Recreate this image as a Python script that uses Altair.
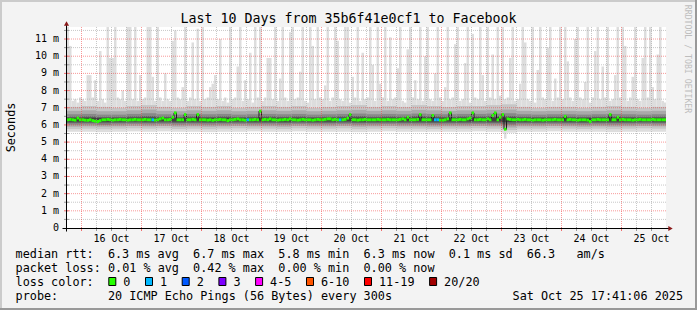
import re
import altair as alt
import pandas as pd

FONT = "DejaVu Sans Mono"
W, H = 600, 201
PAD_L, PAD_T = 66, 27
FULL_W, FULL_H = 697, 310

# ---------------- texts ----------------
title_text = "Last 10 Days from 35b6f41e0cf1 to Facebook"
y_title = "Seconds"
watermark = "RRDTOOL / TOBI OETIKER"
day_labels = ["16 Oct", "17 Oct", "18 Oct", "19 Oct", "20 Oct",
              "21 Oct", "22 Oct", "23 Oct", "24 Oct", "25 Oct"]
legend_lines = [
    "median rtt:  6.3 ms avg  6.7 ms max  5.8 ms min  6.3 ms now  0.1 ms sd  66.3   am/s",
    "packet loss: 0.01 % avg  0.42 % max  0.00 % min  0.00 % now",
    "loss color:",
    "probe:       20 ICMP Echo Pings (56 Bytes) every 300s".ljust(70) + "Sat Oct 25 17:41:06 2025",
]
loss_labels = ["0", "1", "2", "3", "4-5", "6-10", "11-19", "20/20"]
loss_colors = ["#26ff00", "#00b8ff", "#0059ff", "#7e00ff", "#ff00ff", "#ff5500", "#ff0000", "#a10000"]

# ---------------- hourly data (hours counted from 15 Oct 00:00) ----------------
first_hour = 17
ping_max = (
    [12.0, 12.0, 10.6, 7.4, 7.5, 7.3, 7.6]
    + [7.5, 7.4, 8.9, 8.9, 7.6, 8.6, 7.4, 10.3, 7.5, 7.3, 12.0, 9.9, 9.9, 12.0, 7.6, 7.5, 8.0, 7.4, 12.0, 12.0, 7.5, 12.0, 7.4, 8.9]
    + [7.5, 7.6, 12.0, 12.0, 8.8, 7.4, 12.0, 7.6, 7.4, 9.0, 7.5, 7.4, 10.9, 11.5, 7.6, 7.5, 8.2, 12.0, 7.4, 7.6, 10.8, 7.5, 11.6, 7.4]
    + [12.0, 7.5, 7.6, 8.2, 8.4, 8.9, 7.5, 11.0, 7.4, 7.6, 7.3, 12.0, 7.5, 7.6, 9.4, 12.0, 7.4, 8.6, 7.5, 10.2, 7.3, 12.0, 7.6, 12.0]
    + [7.4, 7.6, 9.9, 9.9, 7.5, 12.0, 7.4, 8.7, 12.0, 7.6, 7.4, 11.4, 12.0, 7.5, 7.6, 9.1, 12.0, 7.4, 7.3, 12.0, 10.6, 7.5, 12.0, 7.6]
    + [7.5, 8.3, 12.0, 7.4, 7.6, 12.0, 10.9, 7.5, 7.4, 12.0, 12.0, 7.3, 8.8, 7.6, 12.0, 7.4, 10.2, 7.5, 7.6, 12.0, 9.5, 7.4, 12.0, 8.4]
    + [7.6, 12.0, 7.4, 11.1, 7.5, 7.6, 9.3, 12.0, 7.4, 7.3, 10.4, 12.0, 7.6, 8.6, 7.5, 12.0, 7.4, 10.0, 12.0, 7.5, 7.4, 9.0, 12.0, 7.6]
    + [7.4, 8.2, 12.0, 7.5, 7.6, 10.7, 12.0, 7.4, 7.5, 9.6, 12.0, 7.3, 11.3, 7.6, 7.5, 12.0, 8.9, 7.4, 12.0, 7.6, 10.1, 7.5, 12.0, 7.7]
    + [12.0, 7.5, 7.6, 9.9, 12.0, 7.4, 7.5, 8.4, 12.0, 10.8, 7.5, 7.4, 12.0, 7.3, 9.2, 12.0, 7.6, 7.5, 10.5, 12.0, 7.4, 8.7, 7.6, 12.0]
    + [7.5, 12.0, 9.7, 7.6, 7.4, 11.0, 12.0, 7.6, 7.5, 8.5, 12.0, 7.3, 7.6, 10.3, 12.0, 7.5, 9.4, 7.6, 12.0, 7.4, 7.5, 8.9, 12.0, 7.6]
    + [12.0, 10.6, 7.4, 7.6, 8.8, 12.0, 7.5, 7.4, 9.9, 12.0, 7.6, 12.0, 8.2, 7.5, 10.1, 12.0, 7.4, 7.3]
)
median_ms = (
    [6.3, 6.3, 6.32, 6.3, 6.28, 6.4, 6.3]
    + [6.3, 6.28, 6.27, 6.3, 6.25, 6.22, 6.2, 6.25, 6.3, 6.3, 6.32, 6.3, 6.28, 6.3, 6.3, 6.32, 6.3, 6.3, 6.28, 6.3, 6.3, 6.32, 6.3, 6.3]
    + [6.3, 6.32, 6.3, 6.3, 6.3, 6.28, 6.3, 6.35, 6.4, 6.3, 6.3, 6.32, 6.45, 6.7, 6.3, 6.3, 6.3, 6.6, 6.3, 6.3, 6.32, 6.3, 6.6, 6.3]
    + [6.3, 6.3, 6.28, 6.3, 6.27, 6.3, 6.3, 6.32, 6.3, 6.3, 6.25, 6.3, 6.3, 6.32, 6.35, 6.3, 6.3, 6.28, 6.3, 6.3, 6.3, 6.32, 6.3, 6.8]
    + [6.3, 6.32, 6.3, 6.35, 6.3, 6.3, 6.28, 6.3, 6.3, 6.32, 6.3, 6.35, 6.3, 6.3, 6.28, 6.3, 6.32, 6.3, 6.3, 6.3, 6.28, 6.3, 6.32, 6.3]
    + [6.3, 6.32, 6.35, 6.35, 6.3, 6.32, 6.3, 6.3, 6.3, 6.32, 6.4, 6.6, 6.3, 6.3, 6.28, 6.3, 6.3, 6.32, 6.3, 6.3, 6.3, 6.3, 6.32, 6.3]
    + [6.3, 6.3, 6.32, 6.3, 6.3, 6.3, 6.3, 6.32, 6.35, 6.3, 6.45, 6.3, 6.3, 6.3, 6.32, 6.6, 6.3, 6.3, 6.3, 6.3, 6.55, 6.3, 6.3, 6.28]
    + [6.28, 6.3, 6.35, 6.7, 6.3, 6.3, 6.3, 6.32, 6.3, 6.3, 6.35, 6.4, 6.7, 6.3, 6.3, 6.32, 6.3, 6.3, 6.35, 6.3, 6.55, 6.7, 6.3, 6.45]
    + [6.6, 5.75, 6.35, 6.32, 6.3, 6.3, 6.32, 6.3, 6.3, 6.32, 6.3, 6.3, 6.28, 6.3, 6.3, 6.3, 6.28, 6.3, 6.3, 6.3, 6.3, 6.32, 6.3, 6.3]
    + [6.3, 6.5, 6.3, 6.32, 6.3, 6.3, 6.28, 6.3, 6.3, 6.3, 6.28, 6.2, 6.3, 6.3, 6.32, 6.3, 6.3, 6.3, 6.3, 6.6, 6.3, 6.3, 6.45, 6.3]
    + [6.32, 6.3, 6.3, 6.3, 6.28, 6.3, 6.3, 6.32, 6.3, 6.3, 6.3, 6.3, 6.32, 6.3, 6.3, 6.3, 6.3, 6.3]
)
loss_hours = [52, 90, 127, 165, 166]
loss_counts = [1, 1, 1, 1, 1]
low_tail_hours = [193]
low_tail_ms = [5.2]

# ---------------- 6-hour smoke envelope (blocks start at hour 12) ----------------
block_first = 12
lo0 = [5.6, 5.6] + [5.6, 5.58, 5.6, 5.62] + [5.6, 5.62, 5.6, 5.6] + [5.58, 5.6, 5.6, 5.62] + [5.6, 5.6, 5.62, 5.6] \
    + [5.6, 5.6, 5.58, 5.6] + [5.62, 5.6, 5.6, 5.6] + [5.6, 5.6, 5.62, 5.6] + [5.55, 5.6, 5.6, 5.62] \
    + [5.6, 5.6, 5.6, 5.58] + [5.6, 5.6, 5.6, 5.6]
hi1 = [7.1, 7.05] + [7.1, 7.05, 7.0, 7.1] + [7.15, 7.05, 7.0, 7.1] + [7.05, 7.1, 7.0, 7.05] + [7.1, 7.05, 7.1, 7.0] \
    + [7.05, 7.1, 7.15, 7.05] + [7.1, 7.05, 7.15, 7.1] + [7.05, 7.1, 7.1, 7.15] + [7.2, 7.05, 7.0, 7.05] \
    + [7.05, 7.0, 7.05, 7.1] + [7.05, 7.0, 7.05, 7.05]
lo1 = [5.78, 5.76] + [5.78, 5.75, 5.78, 5.8] + [5.78, 5.8, 5.76, 5.78] + [5.75, 5.78, 5.8, 5.78] + [5.78, 5.76, 5.8, 5.78] \
    + [5.78, 5.8, 5.75, 5.78] + [5.8, 5.78, 5.78, 5.76] + [5.78, 5.78, 5.8, 5.78] + [5.7, 5.78, 5.78, 5.8] \
    + [5.78, 5.76, 5.78, 5.75] + [5.78, 5.8, 5.78, 5.78]
hi2 = [6.85, 6.82] + [6.85, 6.8, 6.8, 6.85] + [6.9, 6.82, 6.8, 6.85] + [6.82, 6.85, 6.8, 6.82] + [6.85, 6.82, 6.85, 6.8] \
    + [6.82, 6.85, 6.88, 6.82] + [6.85, 6.82, 6.88, 6.85] + [6.82, 6.85, 6.85, 6.88] + [6.9, 6.82, 6.8, 6.82] \
    + [6.82, 6.8, 6.82, 6.85] + [6.82, 6.8, 6.82, 6.82]
lo2 = [5.92, 5.9] + [5.92, 5.9, 5.92, 5.94] + [5.92, 5.94, 5.9, 5.92] + [5.9, 5.92, 5.94, 5.92] + [5.92, 5.9, 5.94, 5.92] \
    + [5.92, 5.94, 5.9, 5.92] + [5.94, 5.92, 5.92, 5.9] + [5.92, 5.92, 5.94, 5.92] + [5.85, 5.92, 5.92, 5.94] \
    + [5.92, 5.9, 5.92, 5.9] + [5.92, 5.94, 5.92, 5.92]
hi3 = [6.64, 6.62] + [6.64, 6.6, 6.6, 6.64] + [6.68, 6.62, 6.6, 6.64] + [6.62, 6.64, 6.6, 6.62] + [6.64, 6.62, 6.64, 6.6] \
    + [6.62, 6.64, 6.66, 6.62] + [6.64, 6.62, 6.66, 6.64] + [6.62, 6.64, 6.64, 6.66] + [6.68, 6.62, 6.6, 6.62] \
    + [6.62, 6.6, 6.62, 6.64] + [6.62, 6.6, 6.62, 6.62]
lo3 = [6.03, 6.02] + [6.03, 6.0, 6.03, 6.05] + [6.03, 6.05, 6.02, 6.03] + [6.02, 6.03, 6.05, 6.03] + [6.03, 6.02, 6.05, 6.03] \
    + [6.03, 6.05, 6.02, 6.03] + [6.05, 6.03, 6.03, 6.02] + [6.03, 6.03, 6.05, 6.03] + [5.98, 6.03, 6.03, 6.05] \
    + [6.03, 6.02, 6.03, 6.02] + [6.03, 6.05, 6.03, 6.03]
hi4 = [6.5, 6.48] + [6.5, 6.47, 6.47, 6.5] + [6.52, 6.48, 6.47, 6.5] + [6.48, 6.5, 6.47, 6.48] + [6.5, 6.48, 6.5, 6.47] \
    + [6.48, 6.5, 6.52, 6.48] + [6.5, 6.48, 6.52, 6.5] + [6.48, 6.5, 6.5, 6.52] + [6.52, 6.48, 6.47, 6.48] \
    + [6.48, 6.47, 6.48, 6.5] + [6.48, 6.47, 6.48, 6.48]
lo4 = [6.12, 6.11] + [6.12, 6.1, 6.12, 6.13] + [6.12, 6.13, 6.11, 6.12] + [6.11, 6.12, 6.13, 6.12] + [6.12, 6.11, 6.13, 6.12] \
    + [6.12, 6.13, 6.11, 6.12] + [6.13, 6.12, 6.12, 6.11] + [6.12, 6.12, 6.13, 6.12] + [6.08, 6.12, 6.12, 6.13] \
    + [6.12, 6.11, 6.12, 6.11] + [6.12, 6.13, 6.12, 6.12]
hi5 = [6.42, 6.41] + [6.42, 6.4, 6.4, 6.42] + [6.43, 6.41, 6.4, 6.42] + [6.41, 6.42, 6.4, 6.41] + [6.42, 6.41, 6.42, 6.4] \
    + [6.41, 6.42, 6.43, 6.41] + [6.42, 6.41, 6.43, 6.42] + [6.41, 6.42, 6.42, 6.43] + [6.43, 6.41, 6.4, 6.41] \
    + [6.41, 6.4, 6.41, 6.42] + [6.41, 6.4, 6.41, 6.41]
lo5 = [6.2, 6.19] + [6.2, 6.18, 6.2, 6.21] + [6.2, 6.21, 6.19, 6.2] + [6.19, 6.2, 6.21, 6.2] + [6.2, 6.19, 6.21, 6.2] \
    + [6.2, 6.21, 6.19, 6.2] + [6.21, 6.2, 6.2, 6.19] + [6.2, 6.2, 6.21, 6.2] + [6.17, 6.2, 6.2, 6.21] \
    + [6.2, 6.19, 6.2, 6.19] + [6.2, 6.21, 6.2, 6.2]

# ---------------- grid / tick values ----------------
x_major = [24 * d for d in range(1, 11)]                      # midnights
x_minor = [h for h in range(24, 258, 6) if h % 24 != 0]       # every 6 hours
x_label_vals = [24 * d + 12 for d in range(1, 11)]            # noon of each day
y_major = list(range(1, 12))
y_minor = [k + 0.5 for k in range(0, 12)]
y_label_vals = list(range(0, 12))
y_tick_labels = ["0\u00a0\u00a0"] + [f"{v} m" for v in y_label_vals[1:]]


def loss_cat(n):
    if n <= 3:
        return str(n)
    if n <= 5:
        return "4-5"
    if n <= 10:
        return "6-10"
    if n <= 19:
        return "11-19"
    return "20/20"


hours = [first_hour + i for i in range(len(ping_max))]
loss_map = dict(zip(loss_hours, loss_counts))
cols = pd.DataFrame({"t0": hours, "t1": [h + 1 for h in hours], "med": median_ms, "hi": ping_max})
cols["cat"] = [loss_cat(loss_map.get(h, 0)) for h in hours]
MED_HALF = 0.085
cols["m_lo"] = cols["med"] - MED_HALF
cols["m_hi"] = cols["med"] + MED_HALF

tail = pd.DataFrame({"t0": low_tail_hours, "t1": [h + 1 for h in low_tail_hours], "lo": low_tail_ms,
                     "hi": [median_ms[h - first_hour] for h in low_tail_hours]})

band_colors = ["#dddddd", "#c6c6c6", "#a9a9a9", "#888888", "#646464", "#404040"]
band_lo = [lo0, lo1, lo2, lo3, lo4, lo5]
band_hi = [hi1, hi1, hi2, hi3, hi4, hi5]

xs = alt.Scale(domain=[17.8, 257.8], nice=False, zero=False)
ys = alt.Scale(domain=[0, 11.7], nice=False, zero=False)
loss_scale = alt.Scale(domain=loss_labels, range=loss_colors)

layers = []

# smoke: light spikes (per hour)
layers.append(alt.Chart(cols).mark_rect(color="#dddddd", clip=True).encode(
    x=alt.X("t0:Q", scale=xs, axis=None), x2="t1",
    y=alt.Y("med:Q", scale=ys, axis=None), y2="hi"))
layers.append(alt.Chart(tail).mark_rect(color="#dddddd", clip=True).encode(
    x=alt.X("t0:Q", axis=None), x2="t1", y=alt.Y("lo:Q", axis=None), y2="hi"))
# smoke: darker nested bands (6-hour blocks)
for col, los, his in zip(band_colors, band_lo, band_hi):
    df = pd.DataFrame({"b0": [block_first + 6 * i for i in range(len(los))],
                       "b1": [block_first + 6 * i + 6 for i in range(len(los))],
                       "lo": los, "hi": his})
    layers.append(alt.Chart(df).mark_rect(color=col, clip=True).encode(
        x=alt.X("b0:Q", axis=None), x2="b1", y=alt.Y("lo:Q", axis=None), y2="hi"))
# median
layers.append(alt.Chart(cols).mark_line(interpolate="step-after", color="#1e1e1e", strokeWidth=1, clip=True).encode(
    x=alt.X("t0:Q", axis=None), y=alt.Y("med:Q", axis=None)))
layers.append(alt.Chart(cols).mark_rect(clip=True).encode(
    x=alt.X("t0:Q", axis=None), x2="t1", y=alt.Y("m_lo:Q", axis=None), y2="m_hi",
    color=alt.Color("cat:N", scale=loss_scale, legend=None)))

# grid (dotted, drawn on top)
MINOR = dict(color="#9a9a9a", opacity=0.55, strokeDash=[1, 1], strokeWidth=1)
MAJOR = dict(color="#f02020", opacity=0.45, strokeDash=[1, 1], strokeWidth=1)
layers.append(alt.Chart(pd.DataFrame({"t": x_minor})).mark_rule(**MINOR).encode(x=alt.X("t:Q", axis=None)))
layers.append(alt.Chart(pd.DataFrame({"v": y_minor})).mark_rule(**MINOR).encode(y=alt.Y("v:Q", axis=None)))
layers.append(alt.Chart(pd.DataFrame({"t": x_major})).mark_rule(**MAJOR).encode(x=alt.X("t:Q", axis=None)))
layers.append(alt.Chart(pd.DataFrame({"v": y_major})).mark_rule(**MAJOR).encode(y=alt.Y("v:Q", axis=None)))

# small ticks crossing the axes
layers.append(alt.Chart(pd.DataFrame({"t": x_minor})).mark_rule(color="#9a9a9a").encode(
    x=alt.X("t:Q", axis=None), y=alt.value(H - 1), y2=alt.value(H + 3)))
layers.append(alt.Chart(pd.DataFrame({"t": x_major})).mark_rule(color="#f07070").encode(
    x=alt.X("t:Q", axis=None), y=alt.value(H - 1), y2=alt.value(H + 3)))
layers.append(alt.Chart(pd.DataFrame({"v": y_minor})).mark_rule(color="#9a9a9a").encode(
    y=alt.Y("v:Q", axis=None), x=alt.value(-2), x2=alt.value(3)))
layers.append(alt.Chart(pd.DataFrame({"v": y_major})).mark_rule(color="#f07070").encode(
    y=alt.Y("v:Q", axis=None), x=alt.value(-2), x2=alt.value(3)))

# tick labels through the scales
layers.append(alt.Chart(pd.DataFrame({"t": x_label_vals, "lab": day_labels})).mark_text(
    font=FONT, fontSize=10, color="black", align="center", baseline="alphabetic").encode(
    x=alt.X("t:Q", axis=None), y=alt.value(H + 13.5), text="lab:N"))
layers.append(alt.Chart(pd.DataFrame({"v": y_label_vals, "lab": y_tick_labels})).mark_text(
    font=FONT, fontSize=10, color="black", align="right", baseline="middle").encode(
    y=alt.Y("v:Q", axis=None), x=alt.value(-7), text="lab:N"))

one = pd.DataFrame({"k": [0]})


def rule(x, x2, y, y2, color, width=1):
    return alt.Chart(one).mark_rule(color=color, strokeWidth=width).encode(
        x=alt.value(x), x2=alt.value(x2), y=alt.value(y), y2=alt.value(y2))


def box(x, x2, y, y2, fill, stroke=None):
    kw = dict(color=fill)
    if stroke:
        kw.update(stroke=stroke, strokeWidth=1)
    return alt.Chart(one).mark_rect(**kw).encode(
        x=alt.value(x), x2=alt.value(x2), y=alt.value(y), y2=alt.value(y2))


def label(text, x, y, size=11.8, color="black", align="left", baseline="alphabetic", angle=0):
    return alt.Chart(one).mark_text(font=FONT, fontSize=size, color=color, align=align,
                                    baseline=baseline, angle=angle, text=text).encode(
        x=alt.value(x), y=alt.value(y))


# axis lines and arrows
ARROW = "#8b1a1a"
layers.append(rule(-3.5, 603, H + 0.5, H + 0.5, "black"))
layers.append(rule(0.5, 0.5, H + 3.5, -3, "black"))
layers.append(alt.Chart(one).mark_point(shape="triangle-up", filled=True, size=26, color=ARROW, opacity=1).encode(
    x=alt.value(0.5), y=alt.value(-3.5)))
layers.append(alt.Chart(one).mark_point(shape="triangle-right", filled=True, size=26, color=ARROW, opacity=1).encode(
    x=alt.value(604.5), y=alt.value(H + 0.5)))

# 3-D frame around the image
L, T, R, B = -PAD_L, -PAD_T, FULL_W - PAD_L, FULL_H - PAD_T
layers.append(box(L, R, T, T + 2, "#cbcbcb"))
layers.append(box(L, L + 2, T, B, "#cbcbcb"))
layers.append(box(L, R, B - 2, B, "#999999"))
layers.append(box(R - 2, R, T, B, "#999999"))

# title, vertical texts
layers.append(label(title_text, 348.5 - PAD_L, 23.3 - PAD_T, size=13.3, align="center"))
layers.append(label(y_title, 10.5 - PAD_L, 127.5 - PAD_T, align="center", baseline="middle", angle=270))
layers.append(label(watermark, 687.3 - PAD_L, 59 - PAD_T, size=8.2, color="#bdbdbd",
                    align="center", baseline="middle", angle=90))

# legend lines
CHAR_W = 7.1
TEXT_X0 = 15.6
baselines = [258.3, 272.2, 286.1, 300.0]
for li, line in enumerate(legend_lines):
    for m in re.finditer(r"\S+(?: \S+)*", line):
        layers.append(label(m.group(), TEXT_X0 + m.start() * CHAR_W - PAD_L, baselines[li] - PAD_T))
lx = 123.3
for lab, col in zip(loss_labels, loss_colors):
    layers.append(box(lx - 14.5 - PAD_L, lx - 7.5 - PAD_L, 277.5 - PAD_T, 285.5 - PAD_T, col, stroke="black"))
    layers.append(label(lab, lx - PAD_L, baselines[2] - PAD_T))
    lx += CHAR_W * len(lab) + 29.6

chart = alt.layer(*layers).properties(
    width=W, height=H,
    autosize=alt.AutoSizeParams(type="none"),
    padding={"left": PAD_L, "top": PAD_T, "right": FULL_W - PAD_L - W, "bottom": FULL_H - PAD_T - H},
    background="#f3f3f3",
).configure_view(fill="white", strokeWidth=0)

chart.save("out.html", embed_options={"renderer": "svg", "actions": False})
